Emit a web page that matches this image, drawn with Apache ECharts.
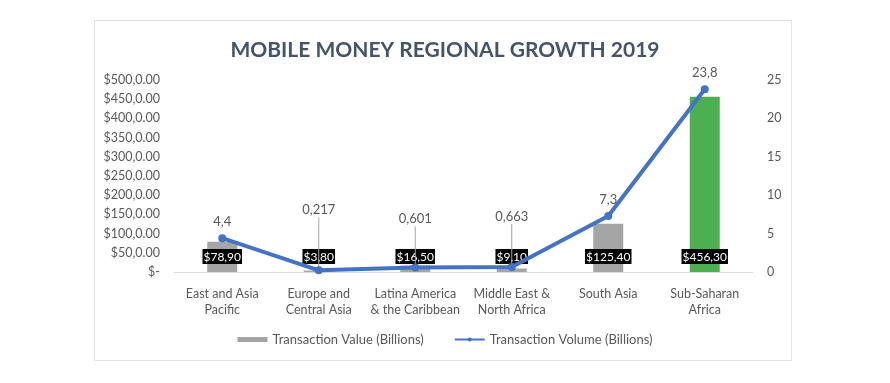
<!DOCTYPE html>
<html>
<head>
<meta charset="utf-8">
<script src="https://cdn.jsdelivr.net/npm/echarts@6/dist/echarts.min.js"></script>
<style>
html,body{margin:0;padding:0;background:#fff;}
#frame{position:absolute;left:94px;top:20px;width:698px;height:341px;border:1px solid #e3e3e3;box-sizing:border-box;}
#chart{position:absolute;left:0;top:0;width:890px;height:383px;}
</style>
</head>
<body>
<div id="frame"></div>
<div id="chart"></div>
<script>
const categories = ['East and Asia\nPacific', 'Europe and\nCentral Asia', 'Latina America\n& the Caribbean', 'Middle East &\nNorth Africa', 'South Asia', 'Sub-Saharan\nAfrica'];
const transactionValue = [78.90, 3.80, 16.50, 9.10, 125.40, 456.30];
const transactionVolume = [4.4, 0.217, 0.601, 0.663, 7.3, 23.8];
const volumeLabels = ['4,4', '0,217', '0,601', '0,663', '7,3', '23,8'];
const valueLabels = ['$78,90', '$3,80', '$16,50', '$9,10', '$125,40', '$456,30'];
const leftTicks = [0, 50, 100, 150, 200, 250, 300, 350, 400, 450, 500];
const rightTicks = [0, 5, 10, 15, 20, 25];

const FONT = 'Lato';
const labelLift = [0, -44, -32, -34, 0, 0];
const gray = '#A5A5A5', green = '#4CAF50', blue = '#4472C4';

const chart = echarts.init(document.getElementById('chart'));
chart.setOption({
  animation: false,
  textStyle: {fontFamily: FONT},
  title: {
    text: 'MOBILE MONEY REGIONAL GROWTH 2019',
    left: 'center', top: 35,
    textStyle: {fontFamily: FONT, fontSize: 21, fontWeight: 'bold', color: '#44546A'}
  },
  legend: {
    bottom: 32, left: 'center', itemGap: 30,
    textStyle: {fontFamily: FONT, fontSize: 13, color: '#595959'},
    data: [
      {name: 'Transaction Value (Billions)', icon: 'rect', itemStyle: {color: gray}},
      {name: 'Transaction Volume (Billions)'}
    ],
    itemWidth: 30, itemHeight: 5
  },
  grid: {left: 174, right: 137, top: 80, bottom: 111},
  xAxis: {
    type: 'category', data: categories,
    axisTick: {show: false},
    axisLine: {lineStyle: {color: '#D9D9D9'}},
    axisLabel: {color: '#595959', fontSize: 12.5, lineHeight: 16, margin: 14, interval: 0}
  },
  yAxis: [
    {
      type: 'value', min: 0, max: 500, interval: 50,
      splitLine: {show: false},
      axisLabel: {
        color: '#595959', fontSize: 12.5, margin: 14,
        formatter: v => v === 0 ? '$-' : '$' + v + ',0.00'
      }
    },
    {
      type: 'value', min: 0, max: 25, interval: 5,
      splitLine: {show: false},
      axisLabel: {color: '#595959', fontSize: 12.5, margin: 14}
    }
  ],
  series: [
    {
      name: 'Transaction Value (Billions)', type: 'bar', yAxisIndex: 0,
      barWidth: 30,
      data: transactionValue.map((v, i) => ({
        value: v,
        itemStyle: {color: i === 5 ? green : gray}
      })),
      label: {
        show: true, position: 'insideBottom', distance: 8,
        formatter: p => valueLabels[p.dataIndex],
        color: '#fff', backgroundColor: '#000', padding: [2, 1, 1, 1],
        fontSize: 12, fontFamily: FONT
      },
      z: 2
    },
    {
      name: 'leaders', type: 'custom', yAxisIndex: 1,
      data: transactionVolume.map((v, i) => [i, v]),
      silent: true,
      renderItem: (params, api) => {
        const i = api.value(0);
        const lift = labelLift[i];
        if (!lift) return null;
        const pt = api.coord([i, api.value(1)]);
        return {
          type: 'line',
          shape: {x1: pt[0], y1: pt[1] - 3, x2: pt[0], y2: pt[1] - 9 + lift},
          style: {stroke: '#A6A6A6', lineWidth: 1}
        };
      },
      z: 2.5
    },
    {
      name: 'Transaction Volume (Billions)', type: 'line', yAxisIndex: 1,
      data: transactionVolume,
      lineStyle: {color: blue, width: 4},
      itemStyle: {color: blue},
      symbol: 'circle', symbolSize: 8,
      label: {
        show: true, position: 'top', distance: 6,
        formatter: p => volumeLabels[p.dataIndex],
        color: '#595959', fontSize: 13, fontFamily: FONT
      },
      labelLayout: p => ({dy: labelLift[p.dataIndex]}),
      z: 3
    }
  ]
});
</script>
</body>
</html>
